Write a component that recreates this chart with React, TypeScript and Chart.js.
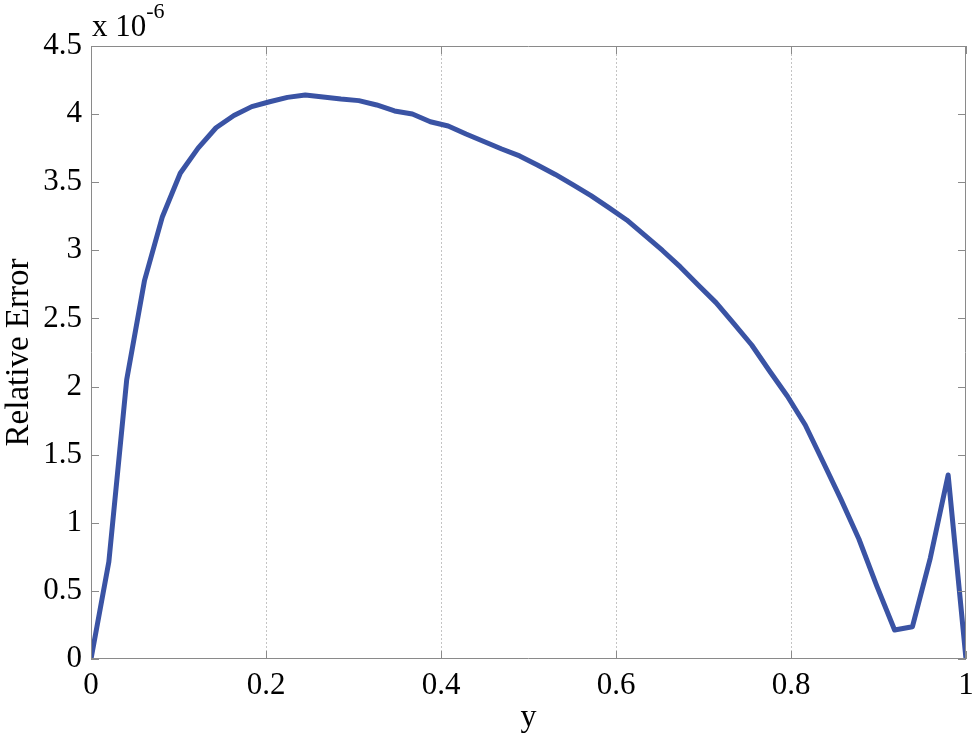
import React, { useEffect, useRef } from "react";
import { Chart, registerables } from "chart.js";

Chart.register(...registerables);

// x positions: 50 evenly spaced samples on [0, 1]
const xValues: number[] = [
  0, 0.0204, 0.0408, 0.0612, 0.0816, 0.102, 0.1224, 0.1429, 0.1633, 0.1837,
  0.2041, 0.2245, 0.2449, 0.2653, 0.2857, 0.3061, 0.3265, 0.3469, 0.3673, 0.3878,
  0.4082, 0.4286, 0.449, 0.4694, 0.4898, 0.5102, 0.5306, 0.551, 0.5714, 0.5918,
  0.6122, 0.6327, 0.6531, 0.6735, 0.6939, 0.7143, 0.7347, 0.7551, 0.7755, 0.7959,
  0.8163, 0.8367, 0.8571, 0.8776, 0.898, 0.9184, 0.9388, 0.9592, 0.9796, 1,
];

// relative error (units of 1e-6)
const errValues: number[] = [
  0, 0.714, 2.05, 2.78, 3.247, 3.566, 3.75, 3.9, 3.99, 4.055,
  4.091, 4.123, 4.14, 4.126, 4.111, 4.099, 4.067, 4.023, 4.001, 3.944,
  3.913, 3.854, 3.799, 3.744, 3.693, 3.627, 3.557, 3.48, 3.402, 3.314,
  3.223, 3.111, 2.999, 2.878, 2.746, 2.616, 2.462, 2.305, 2.114, 1.929,
  1.718, 1.446, 1.172, 0.881, 0.537, 0.213, 0.237, 0.741, 1.351, 0,
];

const xTicks: number[] = [0, 0.2, 0.4, 0.6, 0.8, 1];
const yTicks: number[] = [0, 0.5, 1, 1.5, 2, 2.5, 3, 3.5, 4, 4.5];

const FONT = "'Liberation Serif', 'Times New Roman', serif";

const frame = {
  id: "frame",
  afterDraw(chart: any) {
    const { ctx, chartArea: a, scales } = chart;
    const xs = scales.x;
    const ys = scales.y;
    ctx.save();
    ctx.strokeStyle = "#8a8a8a";
    ctx.lineWidth = 1;
    ctx.beginPath();
    ctx.rect(a.left + 0.5, a.top + 0.5, a.right - a.left - 1, a.bottom - a.top - 1);
    ctx.stroke();
    const tl = 8;
    ctx.beginPath();
    xTicks.forEach((v) => {
      const px = Math.round(xs.getPixelForValue(v)) + 0.5;
      ctx.moveTo(px, a.bottom);
      ctx.lineTo(px, a.bottom - tl);
      ctx.moveTo(px, a.top);
      ctx.lineTo(px, a.top + tl);
    });
    yTicks.forEach((v) => {
      const py = Math.round(ys.getPixelForValue(v)) + 0.5;
      ctx.moveTo(a.left, py);
      ctx.lineTo(a.left + tl, py);
      ctx.moveTo(a.right, py);
      ctx.lineTo(a.right - tl, py);
    });
    ctx.stroke();
    // exponent label
    ctx.fillStyle = "#000";
    ctx.textBaseline = "alphabetic";
    ctx.textAlign = "left";
    ctx.font = `31px ${FONT}`;
    ctx.fillText("x 10", a.left + 1, 36);
    const w = ctx.measureText("x 10").width;
    ctx.font = `22px ${FONT}`;
    ctx.fillText("-6", a.left + 1 + w, 18);
    ctx.restore();
  },
};

export default function App() {
  const ref = useRef<HTMLCanvasElement | null>(null);
  useEffect(() => {
    if (!ref.current) return;
    const chart = new Chart(ref.current, {
      type: "line",
      data: {
        datasets: [
          {
            data: xValues.map((x, i) => ({ x, y: errValues[i] })),
            borderColor: "#3a53a4",
            borderWidth: 5,
            pointRadius: 0,
            tension: 0,
            fill: false,
            borderJoinStyle: "round",
          },
        ],
      },
      options: {
        animation: false,
        responsive: false,
        layout: { padding: { top: 46, right: 9, left: 0, bottom: 0 } },
        plugins: { legend: { display: false }, tooltip: { enabled: false } },
        scales: {
          x: {
            type: "linear",
            min: 0,
            max: 1,
            afterBuildTicks: (s: any) => {
              s.ticks = xTicks.map((v) => ({ value: v }));
            },
            afterFit: (s: any) => {
              s.height = 83;
              s.paddingLeft = 0;
              s.paddingRight = 0;
            },
            ticks: {
              color: "#000",
              font: { family: FONT, size: 31 },
              padding: 8,
              maxRotation: 0,
              callback: (v: any) => String(Math.round(Number(v) * 10) / 10),
            },
            grid: {
              drawTicks: false,
              color: (c: any) =>
                c.tick && c.tick.value > 0 && c.tick.value < 1 ? "#c4c4c4" : "rgba(0,0,0,0)",
            },
            border: { display: false, dash: [2, 2] },
            title: {
              display: true,
              text: "y",
              color: "#000",
              font: { family: FONT, size: 32 },
              padding: { top: 0, bottom: 5 },
            },
          },
          y: {
            type: "linear",
            min: 0,
            max: 4.5,
            afterBuildTicks: (s: any) => {
              s.ticks = yTicks.map((v) => ({ value: v }));
            },
            afterFit: (s: any) => {
              s.width = 91;
              s.paddingTop = 0;
              s.paddingBottom = 0;
            },
            ticks: {
              color: "#000",
              font: { family: FONT, size: 31 },
              padding: 9,
              callback: (v: any) => String(Math.round(Number(v) * 10) / 10),
            },
            grid: { display: false, drawTicks: false },
            border: { display: false },
            title: {
              display: true,
              text: "Relative Error",
              color: "#000",
              font: { family: FONT, size: 33 },
              padding: { top: 0, bottom: 0 },
            },
          },
        },
      },
      plugins: [frame],
    } as any);
    return () => chart.destroy();
  }, []);
  return (
    <div style={{ position: "absolute", left: 0, top: 0, width: 975, height: 742 }}>
      <canvas ref={ref} width={975} height={742} />
    </div>
  );
}
